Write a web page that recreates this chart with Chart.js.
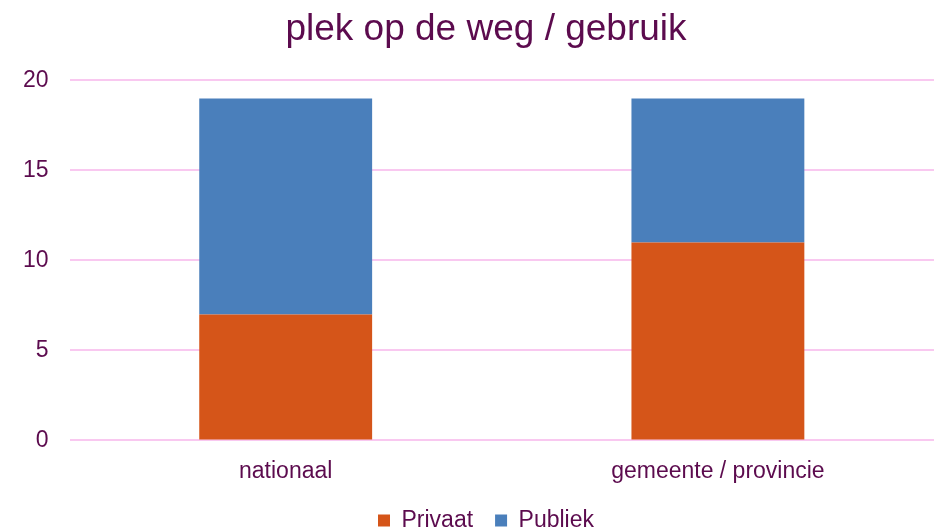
<!DOCTYPE html>
<html>
<head>
<meta charset="utf-8">
<script src="https://cdn.jsdelivr.net/npm/chart.js@4/dist/chart.umd.min.js"></script>
<style>
html,body{margin:0;padding:0;background:#fff;}
#wrap{width:936px;height:532px;position:relative;}
</style>
</head>
<body>
<div id="wrap"><canvas id="c" width="936" height="532"></canvas></div>
<script>
const categories = ["nationaal", "gemeente / provincie"];
const privaat = [7, 11];
const publiek = [12, 8];
const seriesNames = ["Privaat", "Publiek"];
const titleText = "plek op de weg / gebruik";

const textColor = "#5C0B4E";
const gridColor = "#F9C8F0";

Chart.defaults.font.family = "'Liberation Sans', Arial, sans-serif";
Chart.defaults.color = textColor;

// shift title and legend centre to the right, like the reference
const shiftBlocks = {
  id: "shiftBlocks",
  afterLayout(chart) {
    if (chart.titleBlock) chart.titleBlock.left += 36;
    if (chart.legend) chart.legend.left += 36;
  }
};

new Chart(document.getElementById("c"), {
  type: "bar",
  data: {
    labels: categories,
    datasets: [
      { label: seriesNames[0], data: privaat, backgroundColor: "#D55519", barPercentage: 0.4, categoryPercentage: 1.0 },
      { label: seriesNames[1], data: publiek, backgroundColor: "#4A7FBB", barPercentage: 0.4, categoryPercentage: 1.0 }
    ]
  },
  options: {
    responsive: false,
    animation: false,
    layout: { padding: { left: 2, right: 2, top: 0, bottom: -10 } },
    plugins: {
      title: {
        display: true,
        text: titleText,
        color: textColor,
        font: { size: 37, weight: "normal" },
        padding: { top: 8, bottom: 28 }
      },
      legend: {
        position: "bottom",
        labels: {
          color: textColor,
          font: { size: 23 },
          boxWidth: 12,
          boxHeight: 12,
          padding: 22,
          useBorderRadius: false
        }
      },
      tooltip: { enabled: false }
    },
    scales: {
      x: {
        stacked: true,
        grid: { display: false, drawTicks: false },
        border: { display: false },
        ticks: { color: textColor, font: { size: 23 }, padding: 17 },
        afterFit: (s) => { s.height -= 15; }
      },
      y: {
        stacked: true,
        min: 0,
        max: 20,
        ticks: { stepSize: 5, color: textColor, font: { size: 23 }, padding: 21 },
        grid: { color: gridColor, lineWidth: 2, drawTicks: false },
        border: { display: false }
      }
    }
  },
  plugins: [shiftBlocks]
});
</script>
</body>
</html>
